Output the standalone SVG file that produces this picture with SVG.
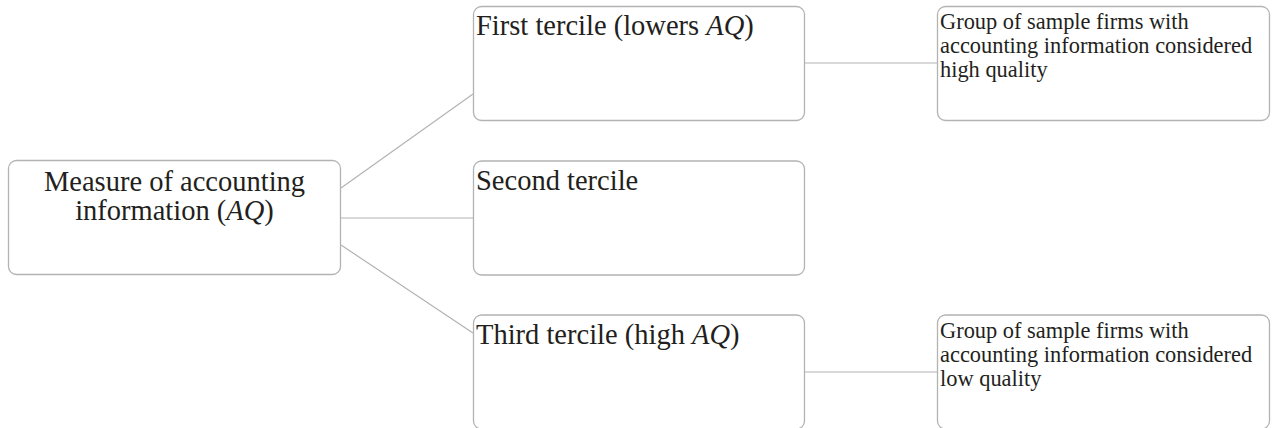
<svg xmlns="http://www.w3.org/2000/svg" width="1272" height="428" viewBox="0 0 1272 428">
<style>
.box{fill:#fff;stroke:#b3b3b3;stroke-width:1.3}
.con{stroke:#b3b3b3;stroke-width:1.2;fill:none}
.t{font-family:"Liberation Serif","Times New Roman",serif;fill:#231f20}
.big{font-size:28.5px}
.sm{font-size:22.4px}
</style>
<rect width="1272" height="428" fill="#fff"/>
<g id="connectors">
<line class="con" x1="341" y1="188" x2="473" y2="94"/>
<line class="con" x1="341" y1="218" x2="473" y2="218"/>
<line class="con" x1="341" y1="245" x2="473" y2="333"/>
<line class="con" x1="804" y1="63" x2="937" y2="63"/>
<line class="con" x1="804" y1="372" x2="937" y2="372"/>
</g>
<g id="root">
<rect class="box" x="8.5" y="160.5" width="332" height="114" rx="8"/>
<text class="t big" text-anchor="middle" x="174.5" y="191">Measure of accounting</text>
<text class="t big" text-anchor="middle" x="174.5" y="220">information (<tspan font-style="italic">AQ</tspan>)</text>
</g>
<g id="first">
<rect class="box" x="473.5" y="6.5" width="331" height="114" rx="8"/>
<text class="t big" x="476" y="35">First tercile (lowers <tspan font-style="italic">AQ</tspan>)</text>
</g>
<g id="second">
<rect class="box" x="473.5" y="161" width="331" height="114" rx="8"/>
<text class="t big" x="476" y="190">Second tercile</text>
</g>
<g id="third">
<rect class="box" x="473.5" y="315" width="331" height="114" rx="8"/>
<text class="t big" x="476" y="344">Third tercile (high <tspan font-style="italic">AQ</tspan>)</text>
</g>
<g id="high">
<rect class="box" x="937.5" y="6.5" width="332" height="114" rx="8"/>
<text class="t sm" x="940" y="29">Group of sample firms with</text>
<text class="t sm" x="940" y="53">accounting information considered</text>
<text class="t sm" x="940" y="77">high quality</text>
</g>
<g id="low">
<rect class="box" x="937.5" y="315" width="332" height="114" rx="8"/>
<text class="t sm" x="940" y="338">Group of sample firms with</text>
<text class="t sm" x="940" y="362">accounting information considered</text>
<text class="t sm" x="940" y="386">low quality</text>
</g>
</svg>
